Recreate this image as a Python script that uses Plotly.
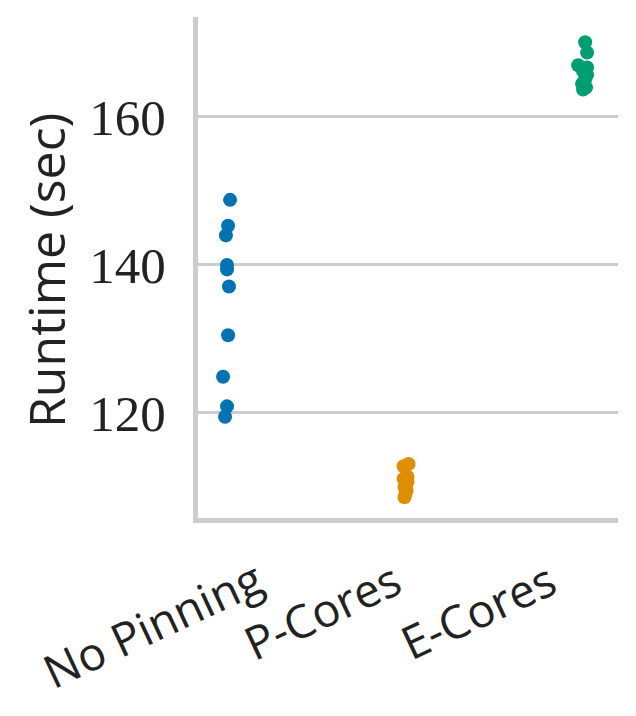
import plotly.graph_objects as go

categories = ["No Pinning", "P-Cores", "E-Cores"]
colors = ["#0173b2", "#de8f05", "#029e73"]

# runtimes in seconds
no_pinning = [148.8, 145.3, 144.0, 140.0, 139.4, 137.1, 130.5, 124.9, 120.9, 119.5]
p_cores = [113.1, 112.8, 111.4, 111.1, 110.7, 110.4, 110.0, 109.6, 109.1, 108.6]
e_cores = [170.1, 168.7, 167.0, 166.7, 166.2, 165.7, 165.1, 164.5, 164.0, 163.7]

# horizontal strip jitter, in category units
jit_no_pinning = [0.017, 0.006, -0.006, 0.0, 0.0, 0.011, 0.006, -0.022, 0.0, -0.011]
jit_p_cores = [0.017, -0.011, 0.011, -0.011, 0.011, 0.0, -0.006, 0.006, 0.0, -0.006]
jit_e_cores = [0.006, 0.017, -0.033, 0.017, -0.006, 0.017, 0.006, -0.011, 0.011, -0.006]

yticks = [120, 140, 160]

series = [no_pinning, p_cores, e_cores]
jitters = [jit_no_pinning, jit_p_cores, jit_e_cores]

fig = go.Figure()
for i, (vals, jit) in enumerate(zip(series, jitters)):
    fig.add_trace(go.Scatter(
        x=[i + j for j in jit], y=vals, mode="markers",
        marker=dict(size=14, color=colors[i], line=dict(width=0)),
        name=categories[i], showlegend=False))

# the page body adds an 8px margin, so work in window pixels and shift back
OFF = 8
W, H = 636, 716
L, R, T, B = 198 - OFF, 26, 17 - OFF, 206
pw, ph = W - L - R, H - T - B

def px_to_paper(px, py):
    px, py = px - OFF, py - OFF
    return (px - L) / pw, (H - B - py) / ph

annos = []
label_centers = [(152, 624), (322, 610), (478, 610)]
for name, (cx, cy) in zip(categories, label_centers):
    ax, ay = px_to_paper(cx, cy)
    annos.append(dict(text=name, x=ax, y=ay, xref="paper", yref="paper",
                      xanchor="center", yanchor="middle", showarrow=False,
                      textangle=-25,
                      font=dict(family="Open Sans", size=46, color="#222222")))
tx, ty = px_to_paper(46, 271)
annos.append(dict(text="Runtime (sec)", x=tx, y=ty, xref="paper", yref="paper",
                  xanchor="center", yanchor="middle", showarrow=False,
                  textangle=-90,
                  font=dict(family="Open Sans", size=50, color="#222222")))

fig.update_layout(
    width=W, height=H,
    margin=dict(l=L, r=R, t=T, b=B),
    plot_bgcolor="white", paper_bgcolor="white",
    annotations=annos,
    xaxis=dict(range=[-0.1625, 2.19], showgrid=False, zeroline=False,
               showticklabels=False, ticks="",
               showline=True, linewidth=5, linecolor="#cccccc"),
    yaxis=dict(range=[105.81, 173.51], tickvals=yticks,
               ticktext=[str(t) for t in yticks],
               showgrid=True, gridcolor="#cccccc", gridwidth=3,
               zeroline=False, ticks="", ticklabelstandoff=17,
               showline=True, linewidth=5, linecolor="#cccccc",
               tickfont=dict(family="Liberation Serif", size=51, color="#222222")),
)

fig.write_html("out.html")
